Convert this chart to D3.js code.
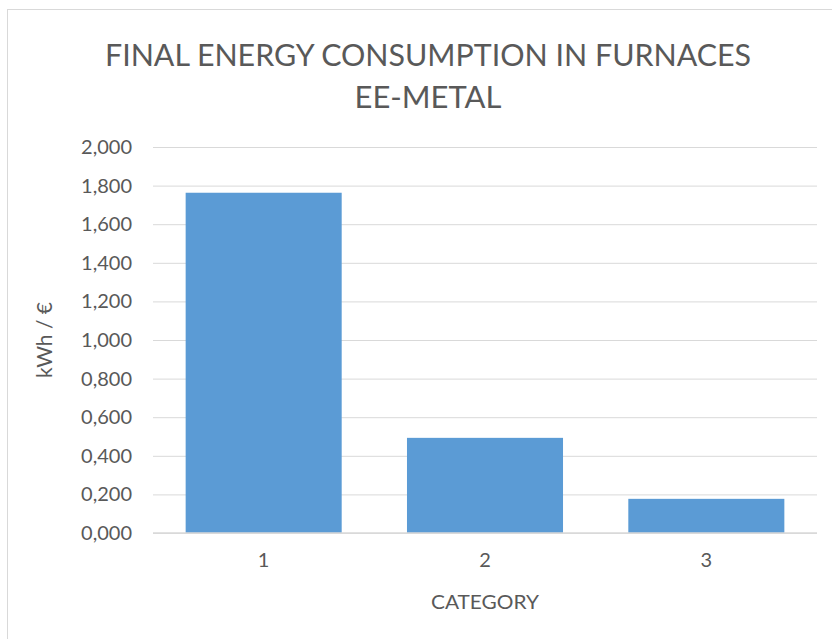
<!DOCTYPE html>
<html>
<head>
<meta charset="utf-8">
<script src="https://cdn.jsdelivr.net/npm/d3@7"></script>
<style>
  body { margin: 0; background: #fff; }
  text { font-family: Lato, "Open Sans", sans-serif; fill: #595959; }
</style>
</head>
<body>
<div id="chart"></div>
<script>
// Chart data
const categories = ["1", "2", "3"];
const values = [1.763, 0.493, 0.177];
const yTicks = [0, 0.2, 0.4, 0.6, 0.8, 1.0, 1.2, 1.4, 1.6, 1.8, 2.0];
const titleLines = ["FINAL ENERGY CONSUMPTION IN FURNACES", "EE-METAL"];

const width = 832;
const height = 639;
const margin = { top: 147, right: 15, bottom: 106, left: 153 };

const svg = d3.select("#chart")
    .append("svg")
    .attr("width", width)
    .attr("height", height);

// Chart frame (only top and left edges are visible in the window)
svg.append("rect")
    .attr("x", 7.5)
    .attr("y", 9.5)
    .attr("width", 900)
    .attr("height", 700)
    .attr("fill", "none")
    .attr("stroke", "#d9d9d9");

const x = d3.scaleBand()
    .domain(categories)
    .range([margin.left, width - margin.right])
    .paddingInner(0.295)
    .paddingOuter(0.1475);

const y = d3.scaleLinear()
    .domain([0, 2])
    .range([height - margin.bottom, margin.top]);

// Format like 1,800 (comma decimal, three places)
const fmt = d => d3.format(".3f")(d).replace(".", ",");

// Gridlines and y labels
const yAxis = svg.append("g")
    .attr("transform", `translate(${margin.left},0)`)
    .call(d3.axisLeft(y)
        .tickValues(yTicks)
        .tickSize(-(width - margin.right - margin.left))
        .tickPadding(21)
        .tickFormat(fmt));

yAxis.select(".domain").remove();
yAxis.selectAll(".tick line")
    .attr("stroke", "#d9d9d9")
    .attr("stroke-width", 1);
yAxis.selectAll(".tick text")
    .attr("font-size", 20)
    .style("font-family", "Lato, sans-serif")
    .attr("fill", "#595959");

// Bars
svg.selectAll(".bar")
    .data(values)
    .join("rect")
    .attr("class", "bar")
    .attr("x", (d, i) => x(categories[i]))
    .attr("y", d => y(d))
    .attr("width", x.bandwidth())
    .attr("height", d => y(0) - y(d))
    .attr("fill", "#5b9bd5");

// X axis
const xAxis = svg.append("g")
    .attr("transform", `translate(0,${y(0)})`)
    .call(d3.axisBottom(x).tickSize(0).tickPadding(20));

xAxis.select(".domain").remove();
xAxis.selectAll(".tick text")
    .attr("font-size", 20)
    .style("font-family", "Lato, sans-serif")
    .attr("fill", "#595959");

svg.append("line")
    .attr("x1", margin.left)
    .attr("x2", width - margin.right)
    .attr("y1", y(0))
    .attr("y2", y(0))
    .attr("stroke", "#d9d9d9")
    .attr("stroke-width", 1.5);

// Title
svg.selectAll(".title")
    .data(titleLines)
    .join("text")
    .attr("class", "title")
    .attr("x", 428)
    .attr("y", (d, i) => 66 + i * 42)
    .attr("text-anchor", "middle")
    .attr("font-size", 30)
    .attr("textLength", (d, i) => i === 0 ? 646 : 147)
    .attr("lengthAdjust", "spacingAndGlyphs")
    .text(d => d);

// Axis titles
svg.append("text")
    .attr("transform", `translate(52,${(y(0) + y(2)) / 2}) rotate(-90)`)
    .attr("text-anchor", "middle")
    .attr("font-size", 21)
    .text("kWh / €");

svg.append("text")
    .attr("x", (margin.left + width - margin.right) / 2)
    .attr("y", 609)
    .attr("text-anchor", "middle")
    .attr("font-size", 20)
    .attr("textLength", 108)
    .attr("lengthAdjust", "spacingAndGlyphs")
    .text("CATEGORY");
</script>
</body>
</html>
